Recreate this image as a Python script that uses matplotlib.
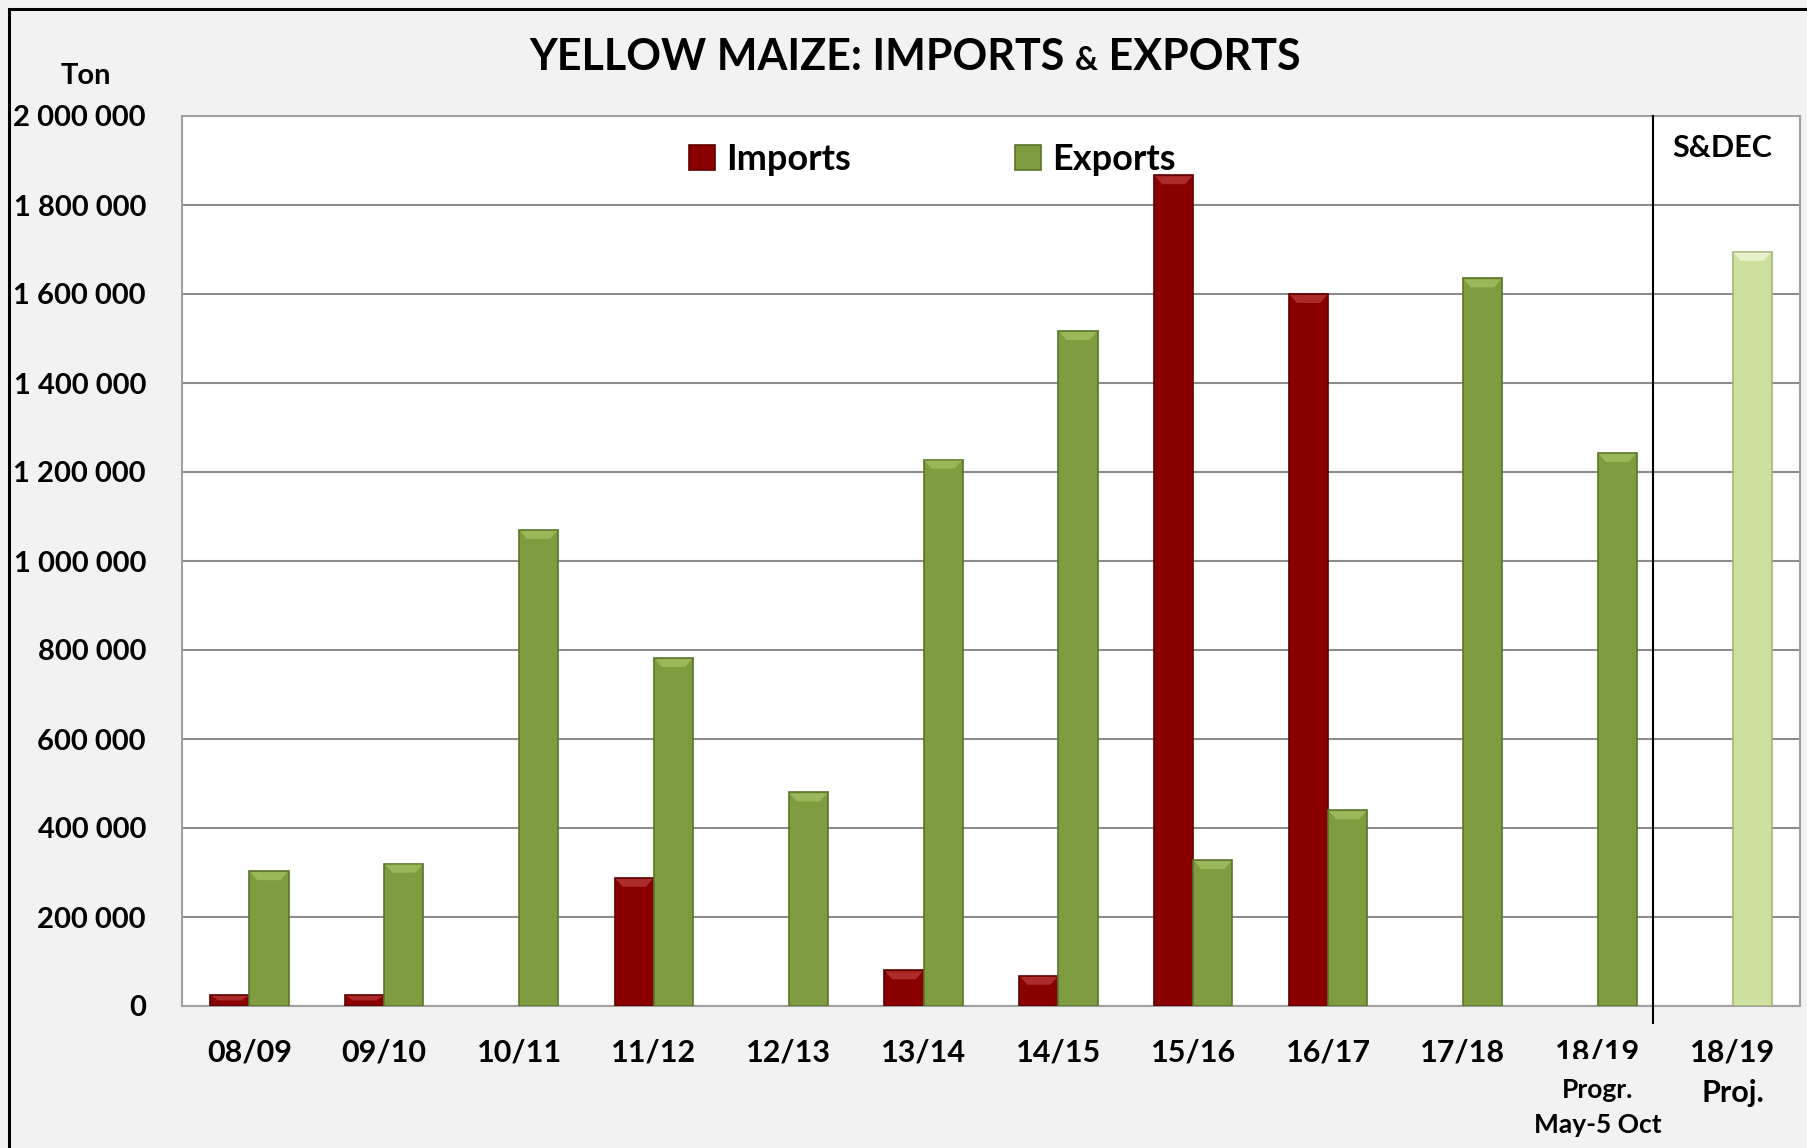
import matplotlib
matplotlib.use("Agg")
import matplotlib.pyplot as plt
from matplotlib.patches import Rectangle, Polygon
from matplotlib.transforms import Bbox, blended_transform_factory, IdentityTransform
import numpy as np

# ---------------- data ----------------
categories = ["08/09", "09/10", "10/11", "11/12", "12/13", "13/14",
              "14/15", "15/16", "16/17", "17/18", "18/19", "18/19"]
sub_labels = ["", "", "", "", "", "", "", "", "", "",
              "Progr.\nMay-5 Oct", "Proj."]
imports = [25000, 25000, 0, 288000, 0, 80000, 68000,
           1867000, 1600000, 0, 0, 0]
exports = [303000, 320000, 1070000, 782000, 480000, 1228000,
           1517000, 328000, 440000, 1635000, 1243000, 1695000]
is_projection = [False] * 11 + [True]
yticks = [0, 200000, 400000, 600000, 800000, 1000000,
          1200000, 1400000, 1600000, 1800000, 2000000]
ytick_labels = ["0", "200 000", "400 000", "600 000", "800 000", "1 000 000",
                "1 200 000", "1 400 000", "1 600 000", "1 800 000", "2 000 000"]
divider_pos = 10.41

# ---------------- style ----------------
plt.rcParams['font.family'] = ['Lato', 'DejaVu Sans']
plt.rcParams['font.weight'] = 'bold'

C_IMP = "#8A0000"
C_IMP_EDGE = "#5E0000"
C_IMP_BEVEL = "#B03030"
C_EXP = "#7F9D40"
C_EXP_EDGE = "#5B7529"
C_EXP_BEVEL = "#9EBB5E"
C_PROJ = "#CDE0A0"
C_PROJ_EDGE = "#A3B67A"
C_PROJ_BEVEL = "#EAF3D2"
BG = "#F2F2F2"
GRID = "#8C8C8C"

W, H = 1808, 1148
fig = plt.figure(figsize=(W / 100, H / 100), dpi=100, facecolor=BG)
ax = fig.add_axes([182 / W, 1 - 1006 / H, (1800 - 182) / W, (1006 - 116) / H])
ax.set_facecolor("white")

x = np.arange(len(categories))
bw = 0.29

imp_idx = [i for i, v in enumerate(imports) if v > 0]
imp_bars = ax.bar(x[imp_idx] - bw / 2, [imports[i] for i in imp_idx], width=bw,
                  color=C_IMP, edgecolor=C_IMP_EDGE, linewidth=1.2, zorder=3,
                  label="Imports")
exp_colors = [C_PROJ if p else C_EXP for p in is_projection]
exp_edges = [C_PROJ_EDGE if p else C_EXP_EDGE for p in is_projection]
exp_bars = ax.bar(x + bw / 2, exports, width=bw, color=exp_colors,
                  edgecolor=exp_edges, linewidth=1.2, zorder=3, label="Exports")

ax.set_xlim(-0.5, len(categories) - 0.5)
ax.set_ylim(0, 2000000)
ax.set_yticks(yticks)
ax.set_yticklabels(ytick_labels, fontsize=21, fontweight='bold')
ax.tick_params(axis='y', length=0, pad=26)
ax.set_xticks([])
ax.grid(axis='y', color=GRID, linewidth=1.5, zorder=0)
ax.set_axisbelow(True)
for s in ax.spines.values():
    s.set_color("#A0A0A0")
    s.set_linewidth(1.5)

# bevel highlight on top of each bar (derived from bar geometry)
bevel_cols = [C_IMP_BEVEL] * len(imp_bars) + \
             [C_PROJ_BEVEL if p else C_EXP_BEVEL for p in is_projection]
for patch, bc in zip(list(imp_bars) + list(exp_bars), bevel_cols):
    (x0, y0), (x1, y1) = ax.transData.transform(
        [(patch.get_x(), patch.get_y()),
         (patch.get_x() + patch.get_width(), patch.get_y() + patch.get_height())])
    h = min(9, (y1 - y0) / 2)
    inset = min(8, (x1 - x0) / 3)
    poly = Polygon([(x0 + 1, y1 - 1), (x1 - 1, y1 - 1), (x1 - inset, y1 - h),
                    (x0 + inset, y1 - h)], closed=True, facecolor=bc,
                   edgecolor='none', transform=IdentityTransform(), zorder=3.5,
                   alpha=0.9)
    ax.add_artist(poly)

# divider line
trans = blended_transform_factory(ax.transData, ax.transAxes)
ax.plot([divider_pos, divider_pos], [1.0, -0.019], transform=trans,
        color="black", linewidth=1.5, clip_on=False, zorder=4)

# x labels
clip_y = H - 1059
for i, (cat, sub) in enumerate(zip(categories, sub_labels)):
    t = ax.text(i, -0.0517, cat, transform=trans, ha='center', va='center',
                fontsize=22, fontweight='bold')
    if sub == "Proj.":
        ax.text(i, -0.098, sub, transform=trans, ha='center', va='center',
                fontsize=22, fontweight='bold')
    elif sub:
        t.set_clip_box(Bbox([[0, clip_y], [W, H]]))
        t.set_clip_on(True)
        lines = sub.split("\n")
        ax.text(i, -0.094, lines[0], transform=trans, ha='center', va='center',
                fontsize=19, fontweight='bold')
        ax.text(i, -0.134, lines[1], transform=trans, ha='center', va='center',
                fontsize=19, fontweight='bold')

# legend
leg = fig.legend(handles=[imp_bars, exp_bars], labels=["Imports", "Exports"],
                 loc='center left', bbox_to_anchor=(689 / W, 1 - 160 / H),
                 ncol=2, frameon=False, fontsize=26, handlelength=0.72,
                 handleheight=0.68, handletextpad=0.3, columnspacing=4.55,
                 borderpad=0, borderaxespad=0)
for txt in leg.get_texts():
    txt.set_fontweight('bold')

# texts
fig.text(86 / W, 1 - 76 / H, "Ton", ha='center', va='center', fontsize=21,
         fontweight='bold')
fig.text(1722 / W, 1 - 148 / H, "S&DEC", ha='center', va='center',
         fontsize=22, fontweight='bold')

# title with smaller ampersand
fig.canvas.draw()
renderer = fig.canvas.get_renderer()
parts = [("YELLOW MAIZE: IMPORTS ", 31), ("&", 23), (" EXPORTS", 31)]
objs = []
for s, fs in parts:
    objs.append(fig.text(0, 1 - 70 / H, s, ha='left', va='baseline',
                         fontsize=fs, fontweight='bold'))
widths = [o.get_window_extent(renderer).width for o in objs]
total = sum(widths)
xstart = 915 - total / 2
for o, w in zip(objs, widths):
    o.set_x(xstart / W)
    xstart += w

# outer border (only left/top visible)
fig.patches.append(Rectangle((9 / W, -0.1), 1.2, 1 - 9 / H + 0.1,
                             transform=fig.transFigure, fill=False,
                             edgecolor="black", linewidth=2.2))

fig.savefig("out.png", dpi=100, facecolor=BG)
